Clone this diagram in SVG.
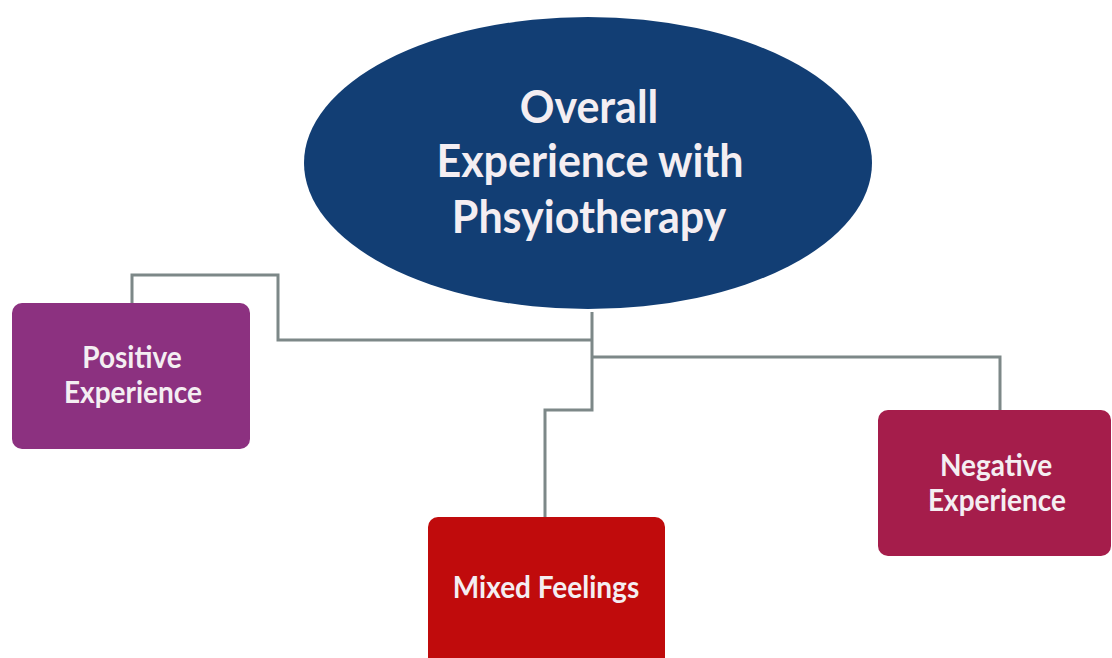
<svg xmlns="http://www.w3.org/2000/svg" width="1112" height="658" viewBox="0 0 1112 658">
<style>
.conn{fill:none;stroke:#7d8888;stroke-width:3}
.t{font-family:Lato,"Liberation Sans",sans-serif;font-weight:bold;fill:#f4eef2;text-anchor:middle}
.big{font-size:43px}
.small{font-size:28px}
</style>
<rect width="1112" height="658" fill="#ffffff"/>
<g id="connectors">
<polyline class="conn" points="592,312 592,410 545,410 545,517"/>
<polyline class="conn" points="592,340 278,340 278,275 132,275 132,304"/>
<polyline class="conn" points="592,357 1000,357 1000,410"/>
</g>
<g id="root">
<ellipse cx="588" cy="163" rx="284" ry="146" fill="#123e74"/>
<text class="t big" transform="translate(589,123) scale(1,1.07)">Overall</text>
<text class="t big" transform="translate(590,177) scale(1,1.07)">Experience with</text>
<text class="t big" transform="translate(589,233) scale(1,1.07)">Phsyiotherapy</text>
</g>
<g id="positive">
<rect x="12" y="303" width="238" height="146" rx="10" fill="#8c3180"/>
<text class="t small" transform="translate(132,368) scale(1,1.12)">Positive</text>
<text class="t small" transform="translate(133,403) scale(1,1.12)">Experience</text>
</g>
<g id="mixed">
<rect x="428" y="517" width="237" height="160" rx="10" fill="#c00b0c"/>
<text class="t small" transform="translate(546,598) scale(1,1.12)">Mixed Feelings</text>
</g>
<g id="negative">
<rect x="878" y="410" width="233" height="146" rx="10" fill="#a51d4b"/>
<text class="t small" transform="translate(996,476) scale(1,1.12)">Negative</text>
<text class="t small" transform="translate(997,511) scale(1,1.12)">Experience</text>
</g>
</svg>
